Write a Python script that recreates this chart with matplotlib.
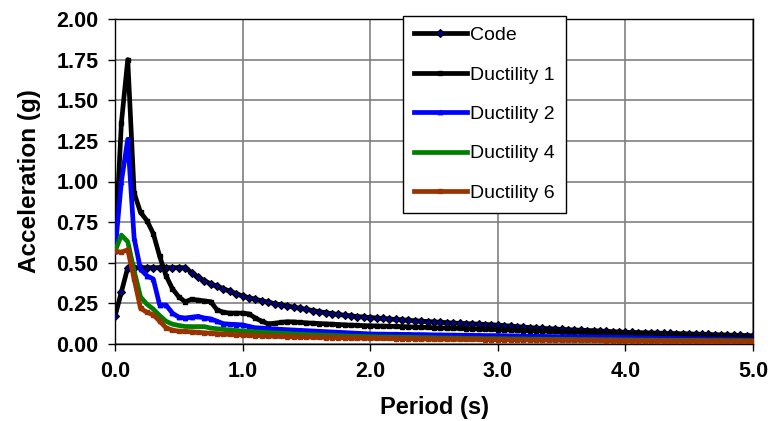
import numpy as np
import matplotlib
matplotlib.use("Agg")
import matplotlib.pyplot as plt

plt.rcParams['font.family'] = ['Liberation Sans', 'DejaVu Sans']

# Period grid (s)
period = np.round(np.arange(0, 101) * 0.05, 2)

code = [
    0.17, 0.32, 0.47, 0.47, 0.47, 0.47, 0.47, 0.47, 0.47, 0.47,
    0.47, 0.47, 0.44, 0.41, 0.39, 0.37, 0.355, 0.34, 0.325, 0.31,
    0.295, 0.285, 0.275, 0.266, 0.257, 0.249, 0.241, 0.234, 0.227, 0.220,
    0.213, 0.206, 0.199, 0.193, 0.187, 0.182, 0.177, 0.173, 0.169, 0.166,
    0.163, 0.160, 0.157, 0.154, 0.151, 0.149, 0.146, 0.143, 0.141, 0.138,
    0.136, 0.134, 0.131, 0.129, 0.127, 0.125, 0.124, 0.122, 0.120, 0.118,
    0.116, 0.113, 0.110, 0.107, 0.104, 0.101, 0.098, 0.096, 0.094, 0.092,
    0.090, 0.088, 0.086, 0.085, 0.083, 0.082, 0.080, 0.078, 0.076, 0.074,
    0.072, 0.071, 0.070, 0.069, 0.068, 0.067, 0.066, 0.065, 0.064, 0.063,
    0.062, 0.061, 0.060, 0.059, 0.057, 0.056, 0.055, 0.054, 0.053, 0.052,
    0.051,
]

ductility1 = [
    0.57, 1.36, 1.75, 0.93, 0.81, 0.76, 0.68, 0.54, 0.42, 0.34,
    0.29, 0.26, 0.275, 0.27, 0.265, 0.26, 0.21, 0.195, 0.19, 0.19,
    0.19, 0.185, 0.16, 0.14, 0.125, 0.127, 0.133, 0.137, 0.136, 0.133,
    0.130, 0.128, 0.126, 0.124, 0.122, 0.120, 0.118, 0.116, 0.115, 0.113,
    0.112, 0.111, 0.110, 0.109, 0.108, 0.107, 0.106, 0.104, 0.103, 0.102,
    0.100, 0.099, 0.098, 0.097, 0.096, 0.095, 0.093, 0.092, 0.091, 0.090,
    0.088, 0.087, 0.086, 0.085, 0.083, 0.082, 0.081, 0.080, 0.078, 0.077,
    0.075, 0.074, 0.073, 0.072, 0.071, 0.070, 0.069, 0.067, 0.066, 0.065,
    0.063, 0.062, 0.060, 0.059, 0.058, 0.056, 0.055, 0.054, 0.053, 0.052,
    0.050, 0.049, 0.048, 0.047, 0.046, 0.044, 0.043, 0.042, 0.041, 0.040,
    0.038,
]

ductility2 = [
    0.57, 1.00, 1.26, 0.65, 0.46, 0.42, 0.40, 0.24, 0.24, 0.19,
    0.165, 0.16, 0.165, 0.17, 0.16, 0.155, 0.14, 0.125, 0.122, 0.12,
    0.118, 0.108, 0.100, 0.098, 0.095, 0.093, 0.090, 0.088, 0.086, 0.084,
    0.082, 0.080, 0.078, 0.076, 0.074, 0.072, 0.070, 0.068, 0.066, 0.064,
    0.062, 0.061, 0.061, 0.060, 0.060, 0.059, 0.059, 0.058, 0.058, 0.057,
    0.056, 0.056, 0.055, 0.055, 0.054, 0.054, 0.053, 0.053, 0.052, 0.052,
    0.052, 0.051, 0.050, 0.050, 0.049, 0.048, 0.048, 0.047, 0.046, 0.046,
    0.045, 0.045, 0.044, 0.044, 0.043, 0.043, 0.042, 0.042, 0.041, 0.041,
    0.040, 0.039, 0.038, 0.038, 0.037, 0.036, 0.035, 0.034, 0.034, 0.033,
    0.032, 0.031, 0.031, 0.030, 0.029, 0.028, 0.028, 0.027, 0.026, 0.026,
    0.025,
]

ductility4 = [
    0.57, 0.67, 0.63, 0.45, 0.29, 0.245, 0.215, 0.175, 0.14, 0.122,
    0.114, 0.108, 0.107, 0.107, 0.107, 0.098, 0.094, 0.090, 0.086, 0.083,
    0.080, 0.078, 0.075, 0.073, 0.070, 0.068, 0.066, 0.064, 0.062, 0.060,
    0.058, 0.057, 0.055, 0.054, 0.052, 0.051, 0.050, 0.048, 0.047, 0.046,
    0.045, 0.044, 0.043, 0.043, 0.042, 0.041, 0.041, 0.040, 0.039, 0.039,
    0.038, 0.037, 0.037, 0.036, 0.036, 0.035, 0.034, 0.034, 0.033, 0.033,
    0.032, 0.032, 0.031, 0.031, 0.031, 0.030, 0.030, 0.029, 0.029, 0.029,
    0.028, 0.028, 0.028, 0.027, 0.027, 0.027, 0.026, 0.026, 0.026, 0.025,
    0.025, 0.025, 0.024, 0.024, 0.024, 0.023, 0.023, 0.023, 0.022, 0.022,
    0.022, 0.022, 0.021, 0.021, 0.021, 0.021, 0.020, 0.020, 0.020, 0.020,
    0.020,
]

ductility6 = [
    0.57, 0.565, 0.58, 0.40, 0.22, 0.195, 0.18, 0.14, 0.10, 0.085,
    0.079, 0.077, 0.075, 0.072, 0.069, 0.066, 0.064, 0.061, 0.059, 0.057,
    0.055, 0.054, 0.052, 0.051, 0.049, 0.048, 0.047, 0.046, 0.045, 0.044,
    0.043, 0.042, 0.041, 0.040, 0.040, 0.039, 0.038, 0.037, 0.037, 0.036,
    0.035, 0.035, 0.034, 0.034, 0.033, 0.033, 0.032, 0.032, 0.031, 0.031,
    0.030, 0.030, 0.030, 0.029, 0.029, 0.028, 0.028, 0.028, 0.027, 0.027,
    0.026, 0.026, 0.026, 0.025, 0.025, 0.025, 0.024, 0.024, 0.024, 0.023,
    0.023, 0.023, 0.023, 0.022, 0.022, 0.022, 0.022, 0.021, 0.021, 0.021,
    0.020, 0.020, 0.020, 0.020, 0.019, 0.019, 0.019, 0.019, 0.018, 0.018,
    0.018, 0.018, 0.018, 0.017, 0.017, 0.017, 0.017, 0.017, 0.016, 0.016,
    0.016,
]

x_ticks = [0.0, 1.0, 2.0, 3.0, 4.0, 5.0]
y_ticks = [0.00, 0.25, 0.50, 0.75, 1.00, 1.25, 1.50, 1.75, 2.00]

W, H = 772, 421
fig = plt.figure(figsize=(W / 100, H / 100), dpi=100)
ax = fig.add_axes([115 / W, 1 - 344 / H, (753 - 115) / W, (344 - 19) / H])

lw = 3.4
ax.plot(period, code, color='black', lw=lw, marker='D', ms=4.0,
        mfc='#000080', mec='black', mew=0.8, label='Code', zorder=3)
ax.plot(period, ductility1, color='black', lw=lw, marker='s', ms=3.2,
        mfc='black', mec='black', label='Ductility 1', zorder=3)
ax.plot(period, ductility2, color='#0000FF', lw=lw, marker='^', ms=3.2,
        mfc='#0000FF', mec='#0000FF', label='Ductility 2', zorder=3)
ax.plot(period, ductility4, color='#008000', lw=lw,
        label='Ductility 4', zorder=3)
ax.plot(period, ductility6, color='#993300', lw=lw, marker='s', ms=2.2,
        mfc='#993300', mec='#993300', label='Ductility 6', zorder=3)

ax.set_xlim(0, 5)
ax.set_ylim(0, 2)
ax.set_xticks(x_ticks)
ax.set_xticklabels([f"{v:.1f}" for v in x_ticks])
ax.set_yticks(y_ticks)
ax.set_yticklabels([f"{v:.2f}" for v in y_ticks])
ax.grid(True, color='#808080', lw=1.2, zorder=0)
ax.set_axisbelow(True)
for s in ax.spines.values():
    s.set_color('black')
    s.set_linewidth(1.0)
ax.tick_params(direction='out', length=5, width=1, pad=7, labelsize=15.5)
for lab in ax.get_xticklabels() + ax.get_yticklabels():
    lab.set_fontweight('bold')

ax.set_xlabel('Period (s)', fontsize=17, fontweight='bold', labelpad=10)
ax.set_ylabel('Acceleration (g)', fontsize=17.5, fontweight='bold', labelpad=11)

leg = ax.legend(loc='upper left', bbox_to_anchor=(403 / W, 1 - 16 / H),
                bbox_transform=fig.transFigure, frameon=True, fancybox=False,
                edgecolor='black', framealpha=1, fontsize=14,
                handlelength=2.75, handletextpad=0.15, labelspacing=1.12,
                borderpad=0.55, borderaxespad=0)
leg.get_frame().set_linewidth(1.0)
leg.set_zorder(5)

fig.savefig('out.png', dpi=100)
